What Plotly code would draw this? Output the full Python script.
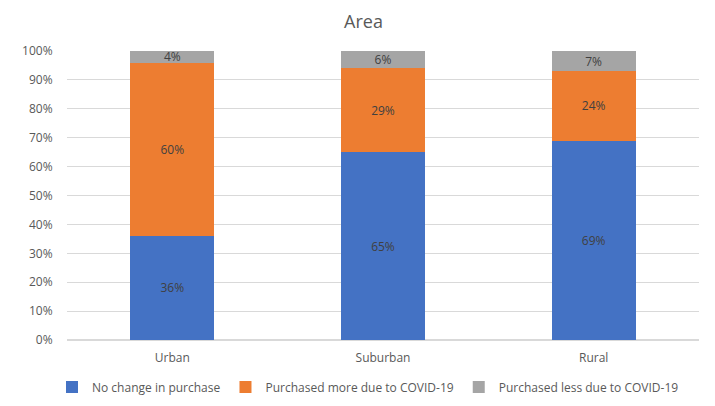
import plotly.graph_objects as go

categories = ["Urban", "Suburban", "Rural"]
no_change = [36, 65, 69]
more = [60, 29, 24]
less = [4, 6, 7]
series_names = ["No change in purchase", "Purchased more due to COVID-19", "Purchased less due to COVID-19"]
colors = ["#4472C4", "#ED7D31", "#A5A5A5"]
tick_vals = list(range(0, 101, 10))
tick_text = [f"{v}%" for v in tick_vals]

fig = go.Figure()
for name, vals, col in zip(series_names, [no_change, more, less], colors):
    fig.add_trace(go.Bar(
        x=categories, y=vals, name=name, marker=dict(color=col, line=dict(width=0)),
        text=[f"{v}%" for v in vals], textposition="inside", insidetextanchor="middle",
        textangle=0, constraintext="none",
        textfont=dict(color="#404040", size=12), hoverinfo="skip",
    ))

fig.update_layout(
    barmode="stack", bargap=0.6,
    width=715, height=406,
    margin=dict(l=59, r=24, t=43, b=74, autoexpand=False),
    paper_bgcolor="white", plot_bgcolor="white",
    font=dict(family="Open Sans, Liberation Sans, sans-serif", color="#595959", size=12),
    title=dict(text="Area", x=355.5 / 715, xanchor="center", xref="container",
               yref="container", y=1 - 13.5 / 406,
               yanchor="middle", font=dict(size=18, color="#595959")),
    xaxis=dict(showgrid=False, showline=False, ticks="outside", ticklen=7, tickcolor="rgba(0,0,0,0)",
               tickfont=dict(size=12, color="#595959")),
    yaxis=dict(range=[0, 100], tickvals=tick_vals, ticktext=tick_text, showgrid=True,
               gridcolor="#D9D9D9", gridwidth=1, zeroline=True, zerolinecolor="#D9D9D9",
               showline=False, ticks="outside", ticklen=11, tickcolor="rgba(0,0,0,0)",
               tickfont=dict(size=12, color="#595959")),
    legend=dict(orientation="h", xref="container", x=360 / 715, xanchor="center",
                yref="container", y=27 / 406,
                yanchor="middle", font=dict(size=12, color="#595959"), traceorder="normal",
                itemwidth=30),
)
fig.write_html("out.html")
